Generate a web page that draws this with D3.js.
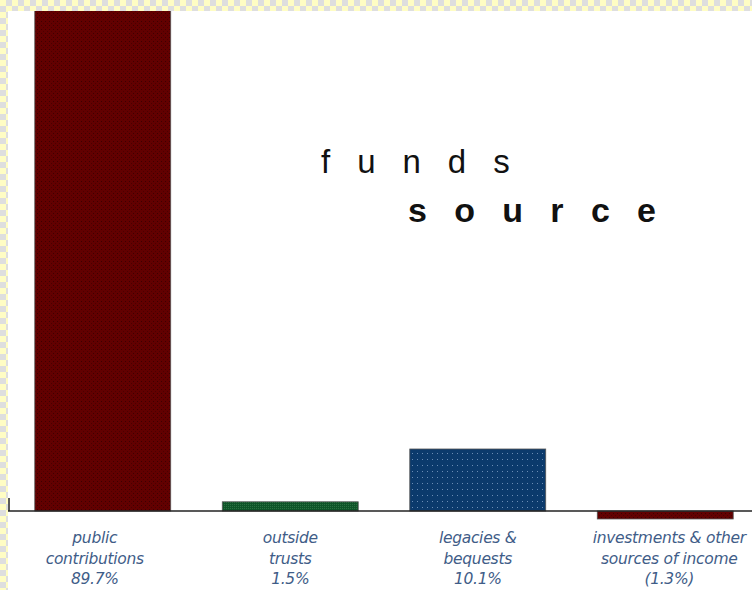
<!DOCTYPE html>
<html lang="en">
<head>
    <meta charset="UTF-8">
    <title>funds source</title>
    <style>
        body { margin: 0; background: #fff; }
        svg { display: block; }
    </style>
</head>
<body>
    <svg width="752" height="590" id="svg"></svg>
    <script src="https://d3js.org/d3.v7.min.js"></script>
    <script>
        // chart data
        const categories = ["public contributions", "outside trusts", "legacies & bequests", "investments & other sources of income"]
        const values = [89.7, 1.5, 10.1, -1.3]
        const labelLines = [
            ["public", "contributions", "89.7%"],
            ["outside", "trusts", "1.5%"],
            ["legacies &", "bequests", "10.1%"],
            ["investments & other", "sources of income", "(1.3%)"]
        ]
        const barPatterns = ["texRed", "texGreen", "texBlue", "texRed"]

        const svg = d3.select("svg#svg")
        const width = +svg.attr("width")
        const height = +svg.attr("height")
        const baseY = 511
        const defs = svg.append("defs")

        // textures for the bars
        const red = defs.append("pattern").attr("id", "texRed").attr("patternUnits", "userSpaceOnUse")
            .attr("width", 4).attr("height", 4)
        red.append("rect").attr("width", 4).attr("height", 4).attr("fill", "#620000")
        red.append("rect").attr("x", 1).attr("y", 1).attr("width", 1).attr("height", 1).attr("fill", "#3c0000")
        red.append("rect").attr("x", 3).attr("y", 3).attr("width", 1).attr("height", 1).attr("fill", "#4a0000")

        const green = defs.append("pattern").attr("id", "texGreen").attr("patternUnits", "userSpaceOnUse")
            .attr("width", 2).attr("height", 2)
        green.append("rect").attr("width", 2).attr("height", 2).attr("fill", "#0e5428")
        green.append("rect").attr("width", 1).attr("height", 1).attr("fill", "#2a7040")

        const blue = defs.append("pattern").attr("id", "texBlue").attr("patternUnits", "userSpaceOnUse")
            .attr("width", 5).attr("height", 6)
        blue.append("rect").attr("width", 5).attr("height", 6).attr("fill", "#0b3a6c")
        blue.append("rect").attr("x", 2).attr("y", 3).attr("width", 1).attr("height", 1).attr("fill", "#6a8cb4")

        // checkered frame
        const frame = defs.append("pattern").attr("id", "frame").attr("patternUnits", "userSpaceOnUse")
            .attr("width", 12).attr("height", 12)
        frame.append("rect").attr("width", 12).attr("height", 12).attr("fill", "#fffdc4")
        frame.append("rect").attr("x", 6).attr("width", 6).attr("height", 6).attr("fill", "#dedede")
        frame.append("rect").attr("y", 6).attr("width", 6).attr("height", 6).attr("fill", "#dedede")

        const xScale = d3.scaleBand().domain(categories).range([9, 759])
            .paddingInner(0.275).paddingOuter(0.1375)
        const yScale = d3.scaleLinear().domain([0, 10.1]).range([baseY, 449])

        svg.append("g").selectAll("rect").data(values).join("rect")
            .attr("x", (d, i) => xScale(categories[i]))
            .attr("y", d => yScale(Math.max(d, 0)))
            .attr("width", xScale.bandwidth())
            .attr("height", d => Math.abs(yScale(d) - yScale(0)))
            .attr("fill", (d, i) => `url(#${barPatterns[i]})`)
            .attr("stroke", "#555")
            .attr("stroke-width", 0.8)

        // frame on top and left
        svg.append("rect").attr("x", 0).attr("y", 0).attr("width", width).attr("height", 11).attr("fill", "url(#frame)")
        svg.append("rect").attr("x", 0).attr("y", 0).attr("width", 8).attr("height", height).attr("fill", "url(#frame)")

        // baseline axis
        const xAxis = d3.axisBottom(xScale).tickSize(0).tickFormat("")
        const axisG = svg.append("g").attr("transform", `translate(0,${baseY})`).call(xAxis)
        axisG.select(".domain").attr("d", `M8,0H${width}`).attr("stroke", "#222").attr("stroke-width", 1.5)
        svg.append("line").attr("x1", 9).attr("x2", 9).attr("y1", baseY - 13).attr("y2", baseY)
            .attr("stroke", "#222").attr("stroke-width", 1.5)

        // category labels
        const labels = svg.append("g").selectAll("text").data(labelLines).join("text")
            .attr("x", (d, i) => xScale(categories[i]) + xScale.bandwidth() / 2 - (i === 0 ? 8 : 0) + (i === 3 ? 4 : 0))
            .attr("y", 543)
            .attr("text-anchor", "middle")
            .attr("font-family", "DejaVu Sans, sans-serif")
            .attr("font-style", "italic")
            .attr("font-size", 15.5)
            .attr("letter-spacing", -0.3)
            .attr("fill", "#3f5d88")
        labels.selectAll("tspan").data(d => d).join("tspan")
            .attr("x", function () { return d3.select(this.parentNode).attr("x") })
            .attr("dy", (d, i) => i === 0 ? 0 : 20.5)
            .text(d => d)

        // title
        svg.append("text").attr("x", 321).attr("y", 173)
            .attr("font-family", "Liberation Sans, Arial, sans-serif")
            .attr("font-size", 33)
            .attr("letter-spacing", 27)
            .attr("fill", "#111")
            .text("funds")
        svg.append("text").attr("x", 408).attr("y", 222)
            .attr("font-family", "Liberation Sans, Arial, sans-serif")
            .attr("font-size", 34)
            .attr("font-weight", "bold")
            .attr("letter-spacing", 27.3)
            .attr("fill", "#111")
            .text("source")
    </script>
</body>
</html>
